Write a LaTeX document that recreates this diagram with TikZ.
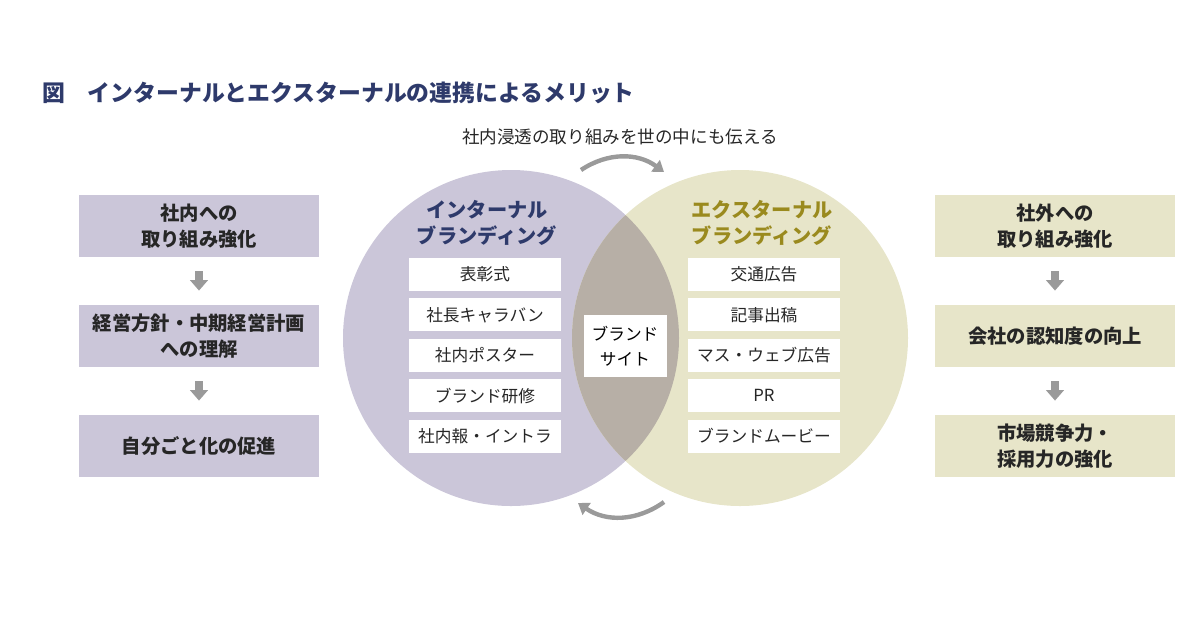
\documentclass[tikz,border=0pt]{standalone}
\usepackage{fontspec}
\setmainfont{Noto Sans CJK JP}
\usetikzlibrary{arrows.meta}
\definecolor{lav}{HTML}{CBC6D9}
\definecolor{olv}{HTML}{E7E5C9}
\definecolor{ovl}{HTML}{B7AFA6}
\definecolor{navy}{HTML}{2E3A6B}
\definecolor{gold}{HTML}{9A8A1E}
\definecolor{arr}{HTML}{9A9A9A}
\begin{document}
\begin{tikzpicture}[x=0.02cm,y=-0.02cm,
 lbox/.style={fill=lav,minimum width=4.8cm,minimum height=1.24cm,align=center,font=\bfseries\fontsize{11}{15}\selectfont,text=black!85},
 rbox/.style={lbox,fill=olv},
 wbox/.style={fill=white,minimum width=3.04cm,minimum height=0.66cm,font=\fontsize{9.5}{12}\selectfont,text=black!85},
 down/.style={draw=arr,line width=4pt,-{Triangle[width=10pt,length=6pt]}},
 curv/.style={draw=arr,line width=2.5pt,-{Triangle[width=8pt,length=6pt]}}]
\useasboundingbox (0,0) rectangle (1200,630);
\node[anchor=west,font=\bfseries\fontsize{13}{15}\selectfont,text=navy] (title) at (36,93) {図　インターナルとエクスターナルの連携によるメリット};
% circles
\fill[lav] (511,338) circle (168);
\fill[olv] (740,338) circle (168);
\begin{scope}\clip (511,338) circle (168); \fill[ovl] (740,338) circle (168);\end{scope}
\node[align=center,font=\bfseries\fontsize{11.5}{15}\selectfont,text=navy] (ih) at (487,223) {インターナル\\ブランディング};
\node[align=center,font=\bfseries\fontsize{11.5}{15}\selectfont,text=gold] (eh) at (762,223) {エクスターナル\\ブランディング};
\foreach \t [count=\i] in {表彰式,社長キャラバン,社内ポスター,ブランド研修,社内報・イントラ}
  \node[wbox] (l\i) at (485,{274.5+(\i-1)*40.4}) {\t};
\foreach \t [count=\i] in {交通広告,記事出稿,マス・ウェブ広告,PR,ブランドムービー}
  \node[wbox] (r\i) at (764,{274.5+(\i-1)*40.4}) {\t};
\node[fill=white,minimum width=1.66cm,minimum height=1.24cm,align=center,font=\fontsize{9.5}{14}\selectfont] (site) at (625,346) {ブランド\\サイト};
\node[font=\fontsize{10}{12}\selectfont,text=black!85] (top) at (620,137) {社内浸透の取り組みを世の中にも伝える};
\coordinate (ta) at (581,170); \coordinate (tb) at (664,172);
\draw[curv] (ta) to[bend left=35] (tb);
\coordinate (ba) at (664,502); \coordinate (bb) at (578,503);
\draw[curv] (ba) to[bend left=35] (bb);
% side boxes
\node[lbox] (a1) at (199,226) {社内への\\取り組み強化};
\node[lbox] (a2) at (199,336) {経営方針・中期経営計画\\への理解};
\node[lbox] (a3) at (199,446) {自分ごと化の促進};
\node[rbox] (b1) at (1055,226) {社外への\\取り組み強化};
\node[rbox] (b2) at (1055,336) {会社の認知度の向上};
\node[rbox] (b3) at (1055,446) {市場競争力・\\採用力の強化};
\draw[down] ([yshift=-8pt]a1.south) -- ([yshift=8pt]a2.north);
\draw[down] ([yshift=-8pt]a2.south) -- ([yshift=8pt]a3.north);
\draw[down] ([yshift=-8pt]b1.south) -- ([yshift=8pt]b2.north);
\draw[down] ([yshift=-8pt]b2.south) -- ([yshift=8pt]b3.north);
\end{tikzpicture}
\end{document}
